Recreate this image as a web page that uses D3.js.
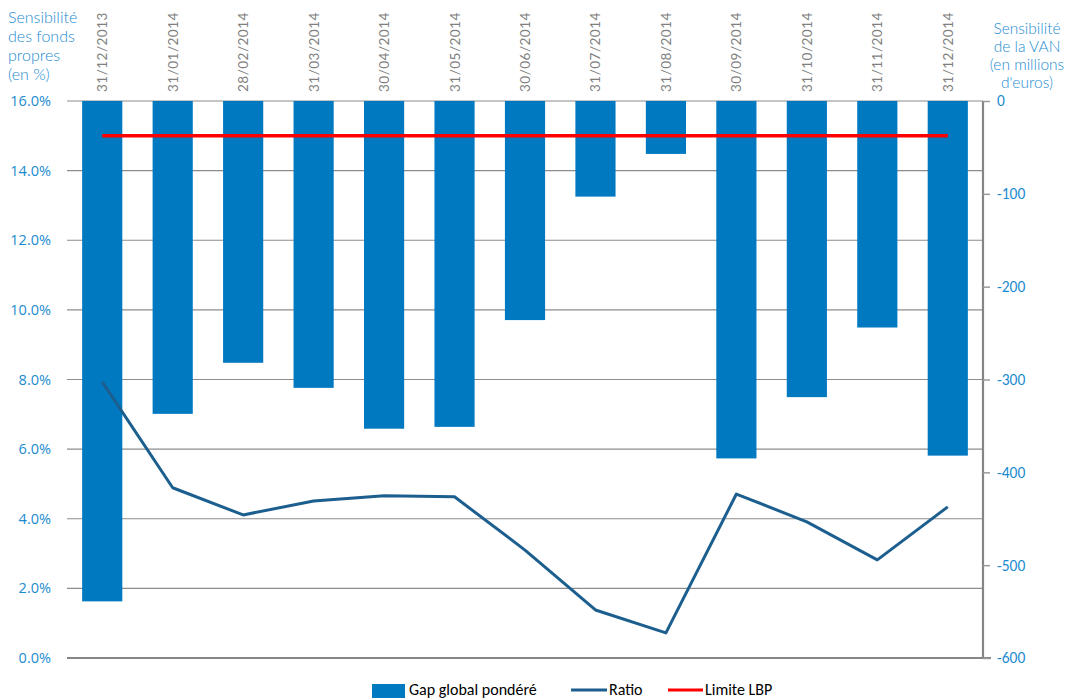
<!DOCTYPE html>
<html>
<head>
<meta charset="utf-8">
<script src="https://cdn.jsdelivr.net/npm/d3@7"></script>
<style>
  body { margin: 0; background: #fff; }
  svg { display: block; }
</style>
</head>
<body>
<svg id="chart" width="1069" height="699"></svg>
<script>
// data
const dates = ['31/12/2013', '31/01/2014', '28/02/2014', '31/03/2014', '30/04/2014', '31/05/2014',
  '30/06/2014', '31/07/2014', '31/08/2014', '30/09/2014', '31/10/2014', '31/11/2014', '31/12/2014'];
const gap = [-539, -337, -282, -309, -353, -351, -236, -103, -57, -385, -319, -244, -382];
const ratio = [7.93, 4.89, 4.11, 4.51, 4.66, 4.63, 3.10, 1.38, 0.72, 4.71, 3.91, 2.82, 4.34];
const limite = [15, 15, 15, 15, 15, 15, 15, 15, 15, 15, 15, 15, 15];
const leftTicks = [0, 2, 4, 6, 8, 10, 12, 14, 16];
const rightTicks = [0, -100, -200, -300, -400, -500, -600];

const svg = d3.select('#chart');
const pLeft = 67, pRight = 983, pTop = 101, pBottom = 658;
const blueText = '#1b8bd0';

const x = d3.scaleBand().domain(dates).range([pLeft, pRight]).paddingInner(0.43).paddingOuter(0.215);
const yL = d3.scaleLinear().domain([0, 16]).range([pBottom, pTop]);
const yR = d3.scaleLinear().domain([-600, 0]).range([pBottom, pTop]);

// gridlines
svg.append('g')
  .selectAll('line')
  .data(leftTicks.slice(1))
  .join('line')
  .attr('x1', pLeft).attr('x2', pRight)
  .attr('y1', d => yL(d)).attr('y2', d => yL(d))
  .attr('stroke', '#8c8c8c').attr('stroke-width', 1.2);

// bars
svg.append('g')
  .selectAll('rect')
  .data(gap)
  .join('rect')
  .attr('x', (d, i) => x(dates[i]))
  .attr('width', x.bandwidth())
  .attr('y', yR(0))
  .attr('height', d => yR(d) - yR(0))
  .attr('fill', '#0079c1');

// bottom axis line
svg.append('line')
  .attr('x1', pLeft).attr('x2', pRight + 8)
  .attr('y1', pBottom).attr('y2', pBottom)
  .attr('stroke', '#858585').attr('stroke-width', 2.2);

// right axis
const rAxis = svg.append('g')
  .attr('transform', `translate(${pRight},0)`)
  .call(d3.axisRight(yR).tickValues(rightTicks).tickSize(7));
rAxis.select('.domain').attr('stroke', '#858585').attr('stroke-width', 2.2).attr('d', `M0,${pTop}V${pBottom}`);
rAxis.selectAll('.tick line').attr('stroke', '#9a9a9a').attr('stroke-width', 1.5);
rAxis.selectAll('.tick text')
  .attr('x', 14)
  .attr('fill', blueText)
  .attr('font-family', 'Carlito, "Open Sans", sans-serif')
  .attr('font-size', 15.5)
  .text(d => String(d));

// left axis labels
svg.append('g')
  .selectAll('text')
  .data(leftTicks)
  .join('text')
  .attr('x', 51)
  .attr('y', d => yL(d))
  .attr('dy', '0.35em')
  .attr('text-anchor', 'end')
  .attr('fill', blueText)
  .attr('font-family', '"Open Sans", sans-serif')
  .attr('font-size', 14.5)
  .text(d => d3.format('.1f')(d) + '%');

// category labels (rotated, top)
svg.append('g')
  .selectAll('text')
  .data(dates)
  .join('text')
  .attr('transform', d => `translate(${x(d) + x.bandwidth() / 2 + 5},92) rotate(-90)`)
  .attr('fill', '#7f7f7f')
  .attr('font-family', 'Lato, sans-serif')
  .attr('font-size', 13.5)
  .attr('letter-spacing', 0.5)
  .text(d => d);

// limite line
const cx = d => x(d) + x.bandwidth() / 2;
svg.append('path')
  .datum(limite)
  .attr('fill', 'none')
  .attr('stroke', '#ff0000')
  .attr('stroke-width', 3.5)
  .attr('d', d3.line().x((d, i) => cx(dates[i])).y(d => yL(d)));

// ratio line
svg.append('path')
  .datum(ratio)
  .attr('fill', 'none')
  .attr('stroke', '#1c5f8e')
  .attr('stroke-width', 3)
  .attr('stroke-linejoin', 'round')
  .attr('d', d3.line().x((d, i) => cx(dates[i])).y(d => yL(d)));

// axis titles
const titleFont = 'Lato, sans-serif';
svg.append('text')
  .attr('fill', blueText).attr('font-family', titleFont).attr('font-size', 16).attr('font-weight', 300)
  .selectAll('tspan')
  .data(['Sensibilité', 'des fonds', 'propres', '(en %)'])
  .join('tspan')
  .attr('x', 8)
  .attr('y', (d, i) => 23 + i * 19)
  .text(d => d);

svg.append('text')
  .attr('fill', blueText).attr('font-family', titleFont).attr('font-size', 15.5).attr('font-weight', 300)
  .attr('text-anchor', 'middle')
  .selectAll('tspan')
  .data(['Sensibilité', 'de la VAN', '(en millions', "d'euros)"])
  .join('tspan')
  .attr('x', 1027)
  .attr('y', (d, i) => 34 + i * 18)
  .text(d => d);

// legend
const legend = svg.append('g').attr('font-family', 'Carlito, "Liberation Sans", sans-serif').attr('font-size', 16).attr('fill', '#000');
legend.append('rect').attr('x', 372).attr('y', 684).attr('width', 33).attr('height', 14).attr('fill', '#0079c1');
legend.append('text').attr('x', 409).attr('y', 695).text('Gap global pondéré');
legend.append('line').attr('x1', 571).attr('x2', 607).attr('y1', 690).attr('y2', 690).attr('stroke', '#1c5f8e').attr('stroke-width', 3);
legend.append('text').attr('x', 609).attr('y', 695).text('Ratio');
legend.append('line').attr('x1', 668).attr('x2', 703).attr('y1', 690).attr('y2', 690).attr('stroke', '#ff0000').attr('stroke-width', 3);
legend.append('text').attr('x', 705).attr('y', 695).text('Limite LBP');
</script>
</body>
</html>
